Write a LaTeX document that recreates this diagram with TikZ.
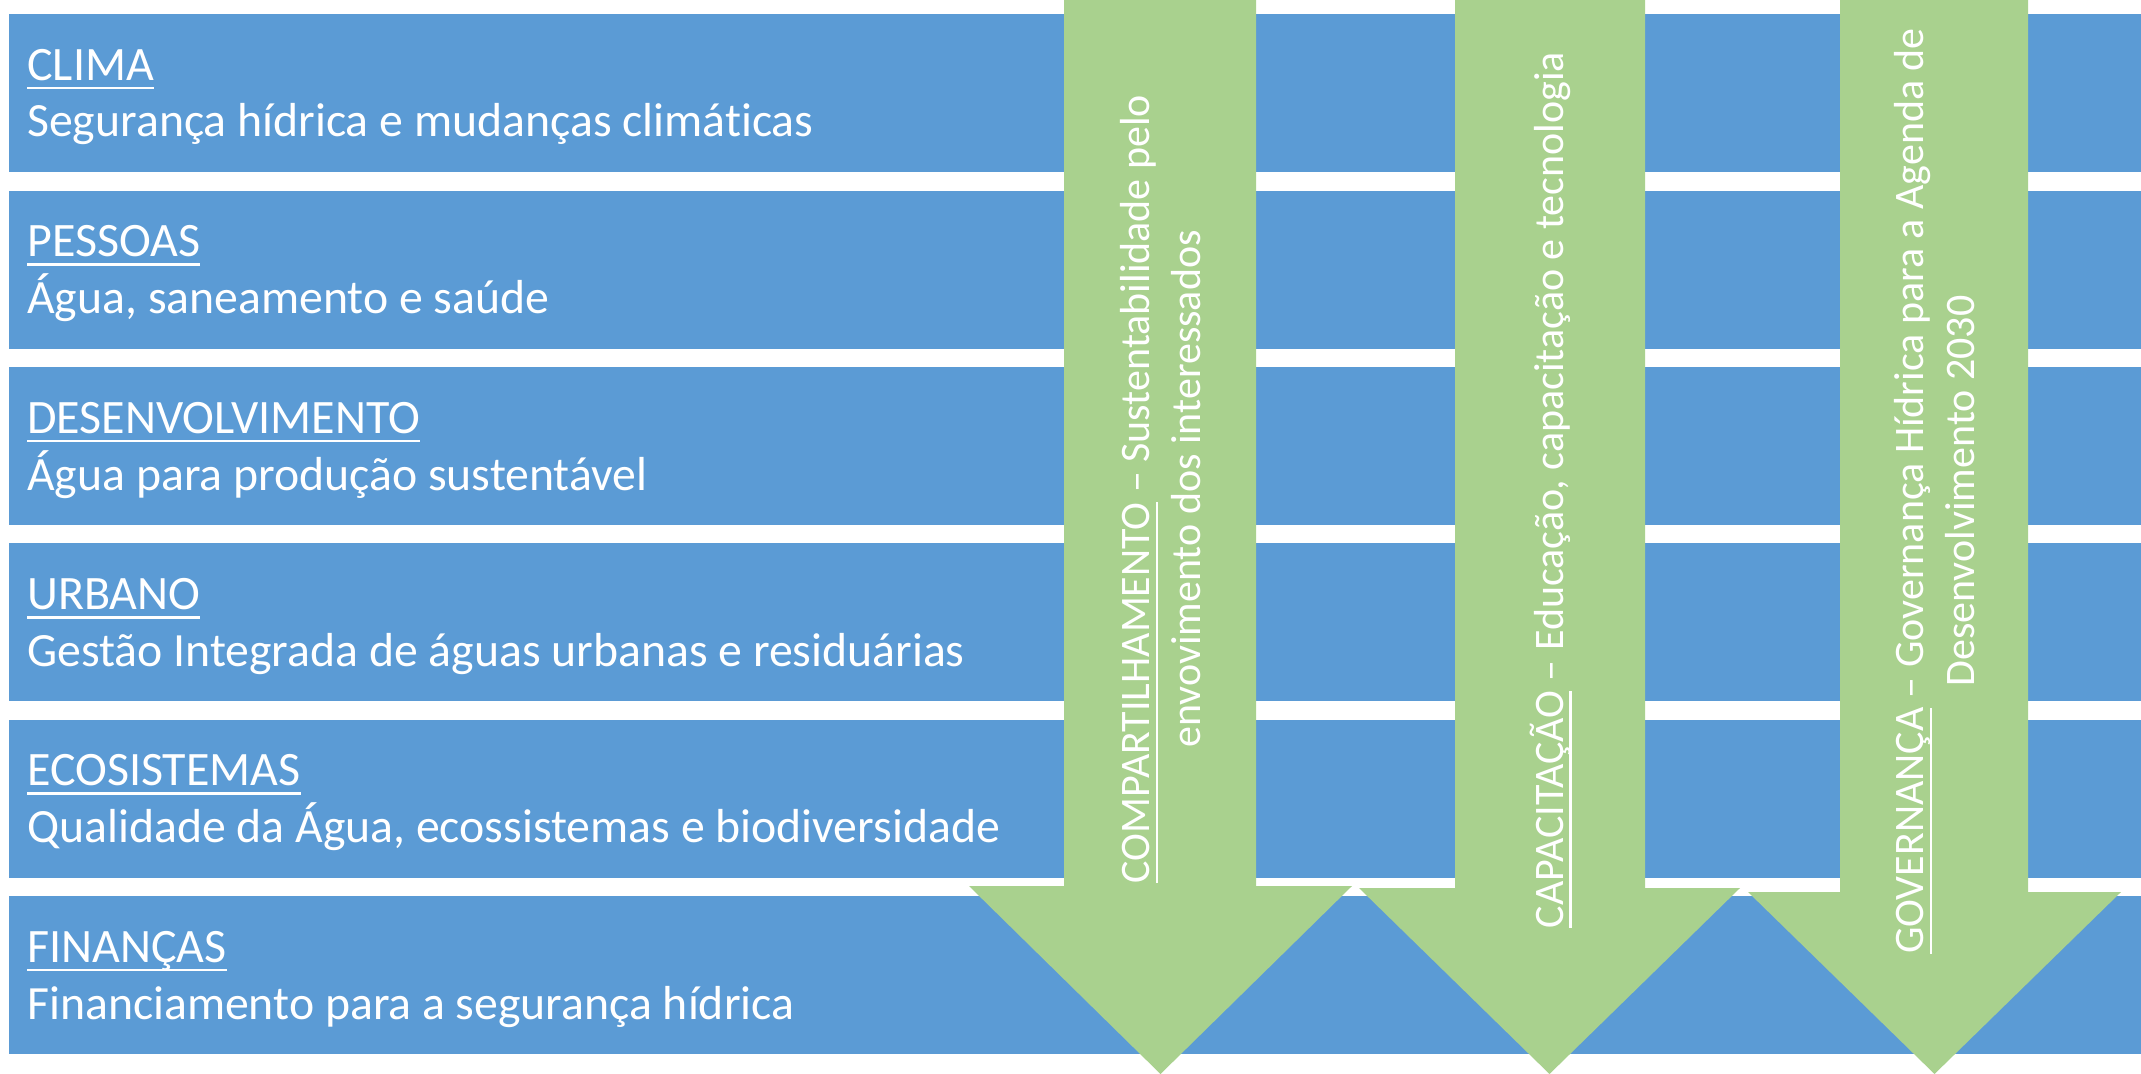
\documentclass[tikz,border=0pt]{standalone}
\usepackage{fontspec}
\setmainfont{Carlito}[Ligatures=NoCommon]
\definecolor{barblue}{HTML}{5B9BD5}
\definecolor{arrgreen}{HTML}{A9D18E}
\newcommand\ulA[1]{\setbox0\hbox{#1}\rlap{\vrule height -4.9pt depth 7.1pt width \wd0}\box0\relax}
\newcommand\ulB[1]{\setbox0\hbox{#1}\rlap{\vrule height -4.4pt depth 6.2pt width \wd0}\box0\relax}
\tikzset{
  barshape/.style={fill=barblue, draw=none},
  arrowshape/.style={fill=arrgreen, draw=none},
  titlelbl/.style={text=white, inner sep=0, anchor=base west, font=\fontsize{36pt}{42.75pt}\selectfont},
  sublbl/.style={text=white, inner sep=0, anchor=base west, font=\fontsize{35.8pt}{42.75pt}\selectfont},
  arrlbl/.style={text=white, inner sep=0, rotate=90, align=center, font=\fontsize{31.5pt}{38.25pt}\selectfont},
}
\begin{document}
\begin{tikzpicture}[x=0.75pt, y=-0.75pt]
\useasboundingbox (0,0) rectangle (2141,1074);
\fill[white] (0,0) rectangle (2141,1074);
% bars
\foreach \t [count=\i] in {14,190.5,367,543,719.5,896}{
  \path[barshape] (9,\t) rectangle (2141,\t+158);
}
% labels
\node[titlelbl] (t1) at (27,80) {\ulA{CLIMA}};
\node[sublbl] (s1) at (27,137) {Segurança hídrica e mudanças climáticas};
\node[titlelbl] (t2) at (27,256.5) {\ulA{PESSOAS}};
\node[sublbl] (s2) at (27,313.5) {Água, saneamento e saúde};
\node[titlelbl] (t3) at (27,433) {\ulA{DESENVOLVIMENTO}};
\node[sublbl] (s3) at (27,490) {Água para produção sustentável};
\node[titlelbl] (t4) at (27,609.5) {\ulA{URBANO}};
\node[sublbl] (s4) at (27,666.5) {Gestão Integrada de águas urbanas e residuárias};
\node[titlelbl] (t5) at (27,785.5) {\ulA{ECOSISTEMAS}};
\node[sublbl] (s5) at (27,842.5) {Qualidade da Água, ecossistemas e biodiversidade};
\node[titlelbl] (t6) at (27,962) {\ulA{FINANÇAS}};
\node[sublbl] (s6) at (27,1019) {Financiamento para a segurança hídrica};
% arrows
\path[arrowshape] (1064,0) -- (1256,0) -- (1256,886) -- (1352,886) -- (1160.5,1074) -- (969,886) -- (1064,886) -- cycle;
\path[arrowshape] (1455,0) -- (1645,0) -- (1645,888) -- (1740,888) -- (1549.5,1074) -- (1359,888) -- (1455,888) -- cycle;
\path[arrowshape] (1840,0) -- (2028,0) -- (2028,892) -- (2121,892) -- (1934.5,1074) -- (1748,892) -- (1840,892) -- cycle;
% arrow texts
\node[arrlbl] (a1) at (1161,489) {\ulB{COMPARTILHAMENTO} – Sustentabilidade pelo\\envovimento dos interessados};
\node[arrlbl] (a2) at (1551,490) {\ulB{CAPACITAÇÃO} – Educação, capacitação e tecnologia};
\node[arrlbl] (a3) at (1935,491) {\ulB{GOVERNANÇA} – Governança Hídrica para a Agenda de\\Desenvolvimento 2030};
\end{tikzpicture}
\end{document}
